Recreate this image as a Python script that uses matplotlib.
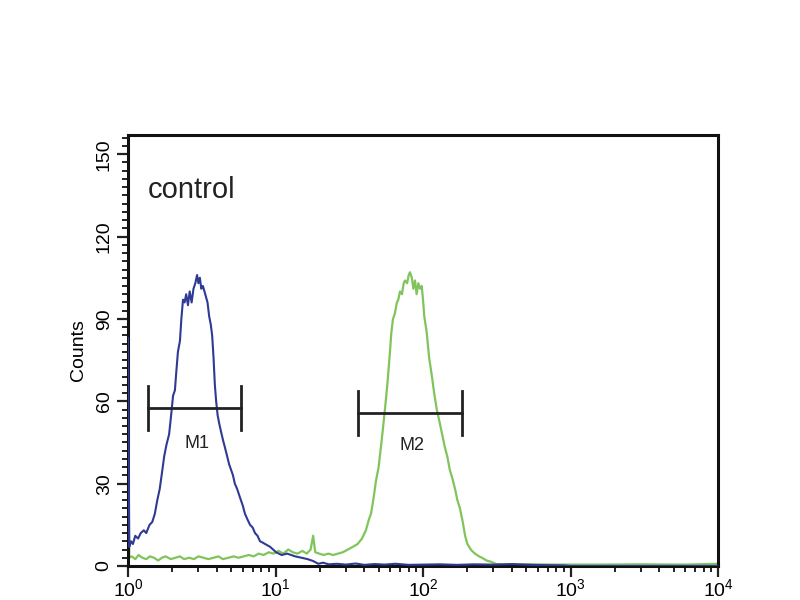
import math
import matplotlib
matplotlib.use("Agg")
import matplotlib.pyplot as plt
from matplotlib.ticker import LogLocator, MultipleLocator, FixedLocator, NullFormatter, FuncFormatter

plt.rcParams['font.family'] = ['Liberation Sans', 'DejaVu Sans']
plt.rcParams['mathtext.fontset'] = 'custom'
plt.rcParams['mathtext.rm'] = 'Liberation Sans'
plt.rcParams['mathtext.it'] = 'Liberation Sans'

# ---- data ----
blue_x = [1.00, 1.02, 1.05, 1.08, 1.12, 1.17, 1.22, 1.28, 1.33, 1.40, 1.46, 1.52, 1.58,
          1.64, 1.70, 1.76, 1.82, 1.90, 1.97, 2.02, 2.08, 2.12, 2.18, 2.25, 2.30, 2.36,
          2.42, 2.48, 2.55, 2.62, 2.70, 2.78, 2.86, 2.94, 3.00, 3.07, 3.14, 3.22, 3.30,
          3.38, 3.46, 3.55, 3.64, 3.72, 3.80, 3.88, 3.96, 4.05, 4.15, 4.27, 4.40, 4.55,
          4.70, 4.85, 5.00, 5.15, 5.30, 5.50, 5.74, 6.00, 6.21, 6.45, 6.72, 7.00, 7.26,
          7.55, 7.85, 8.20, 8.50, 9.18, 10.1, 11.0, 12.0, 13.6, 15.0, 16.5, 18.0, 19.5,
          21.0, 23.0, 26.0, 30.0, 35.0, 40.0, 47.0, 55.0, 65.0, 80.0, 100, 130, 170, 220,
          300, 400, 550, 700, 900, 1000, 10000]
blue_y = [83, 7, 9, 8, 11, 10, 12, 13, 12, 15, 16, 19, 24,
          28, 34, 40, 44, 48, 56, 62, 64, 70, 78, 82, 90, 97,
          96, 99, 95, 100, 96, 101, 103, 106, 103, 105, 101, 102, 100,
          98, 96, 91, 88, 84, 76, 66, 60, 55, 52, 49, 46, 43,
          40, 37, 35, 33, 30, 28, 25, 22, 19, 17, 15, 14, 12,
          11, 9, 8.5, 8, 7, 5, 4, 4.5, 3.5, 3, 2.5, 1.8, 0.8,
          1.2, 0.6, 0.8, 0.5, 0.9, 0.4, 0.7, 0.5, 0.8, 0.4, 0.5, 0.6, 0.4, 0.6,
          0.5, 0.7, 0.4, 0.3, 0.2, 0, 0]

green_x = [1.00, 1.02, 1.06, 1.12, 1.18, 1.25, 1.33, 1.41, 1.50, 1.60, 1.70, 1.80, 1.95,
           2.10, 2.25, 2.40, 2.60, 2.80, 3.00, 3.25, 3.50, 3.80, 4.10, 4.40, 4.80, 5.20,
           5.60, 6.10, 6.60, 7.10, 7.70, 8.30, 9.00, 9.70, 10.5, 11.3, 12.2, 13.1, 14.1,
           15.2, 16.3, 17.3, 18.0, 18.6, 19.8, 21.2, 22.8, 24.6, 26.5, 28.6, 31.0, 33.5,
           36.0, 38.6, 41.0, 43.0, 44.4, 46.0, 48.0, 50.0, 52.0, 53.5, 55.2, 57.5, 59.7,
           61.0, 62.6, 64.5, 66.5, 68.0, 69.8, 72.0, 74.0, 75.5, 78.0, 80.0, 81.6, 84.0,
           86.0, 88.3, 90.5, 93.0, 95.5, 98.0, 100, 102, 104, 106, 110, 115, 119, 124,
           130, 136, 141, 146, 152, 158, 165, 171, 178, 186, 193, 200, 212, 225, 240,
           251, 270, 290, 313, 350, 500, 800, 1500, 3000, 6000, 10000]
green_y = [42, 3, 3.5, 2.5, 4, 3, 2.5, 3.5, 3, 2, 3, 3.5, 2.5,
           3, 3.5, 2.5, 3, 2.5, 3.5, 3, 2.5, 3, 3.5, 2.5, 3, 3.5,
           3, 3.5, 4, 3.5, 4.5, 4, 5, 4.5, 5.5, 4.5, 6, 5, 4.5,
           5.5, 4.5, 6, 11, 5, 4.5, 4, 4.5, 4, 4.5, 5, 6, 7,
           8, 10, 13, 17, 19, 24, 31, 36, 44, 50, 57, 67, 78,
           85, 90, 92, 96, 97, 100, 99, 103, 104, 103, 106, 107, 105,
           101, 104, 99, 103, 101, 102, 97, 91, 88, 85, 76, 69, 63, 57,
           52, 47, 43, 40, 35, 32, 28, 24, 21, 16, 11, 8, 5.8, 4.5, 3.5,
           3, 2, 1.5, 0.7, 0.5, 0.6, 0.5, 0.5, 0.6, 0.5, 0.8]

markers = ["M1", "M2"]
marker_lo = [1.37, 36.4]
marker_hi = [5.81, 183]
marker_level = [57.7, 55.8]
marker_label_x = [2.92, 83.8]
marker_label_y = [44.5, 44.0]

panel_title = "control"
y_label = "Counts"
y_ticks = [0, 30, 60, 90, 120, 150]
x_ticks = [1, 10, 100, 1000, 10000]

# ---- figure ----
fig = plt.figure(figsize=(8, 6), dpi=100)
ax = fig.add_axes([0.16, 0.0567, 0.7375, 0.7183])

ax.plot(green_x, green_y, color='#80c45c', lw=1.6, zorder=2)
ax.plot(blue_x, blue_y, color='#2e3a94', lw=1.5, zorder=3)

for name, lo, hi, lev, lx, ly in zip(markers, marker_lo, marker_hi, marker_level,
                                     marker_label_x, marker_label_y):
    ax.plot([lo, hi], [lev, lev], color='#222222', lw=2, zorder=4)
    ax.plot([lo, lo], [lev - 8, lev + 8], color='#222222', lw=2, zorder=4)
    ax.plot([hi, hi], [lev - 8, lev + 8], color='#222222', lw=2, zorder=4)
    ax.text(lx, ly, name, ha='center', va='center', fontsize=13, color='#222222', zorder=5)

ax.text(1.37, 137, panel_title, ha='left', va='center', fontsize=21, color='#222222')

ax.set_xscale('log')
ax.set_xlim(1, 10000)
ax.set_ylim(0, 157)

ax.xaxis.set_major_locator(FixedLocator(x_ticks))
ax.xaxis.set_minor_locator(LogLocator(base=10, subs=range(2, 10)))
ax.xaxis.set_minor_formatter(NullFormatter())
ax.xaxis.set_major_formatter(FuncFormatter(lambda v, p: r'$\mathregular{10^{%d}}$' % round(math.log10(v))))

ax.yaxis.set_major_locator(FixedLocator(y_ticks))
ax.yaxis.set_minor_locator(MultipleLocator(3))

ax.tick_params(axis='both', which='major', direction='out', length=8, width=1.6, color='#222222')
ax.tick_params(axis='both', which='minor', direction='out', length=4, width=1.4, color='#222222')
ax.tick_params(axis='x', which='major', labelsize=14, pad=0.5)
ax.tick_params(axis='y', which='major', labelsize=14, pad=3)
for lab in ax.get_yticklabels():
    lab.set_rotation(90)
    lab.set_va('center')

ax.set_ylabel(y_label, fontsize=14, labelpad=6)

for s in ax.spines.values():
    s.set_linewidth(2.2)
    s.set_color('#111111')

fig.savefig('out.png', dpi=100, facecolor='white')
